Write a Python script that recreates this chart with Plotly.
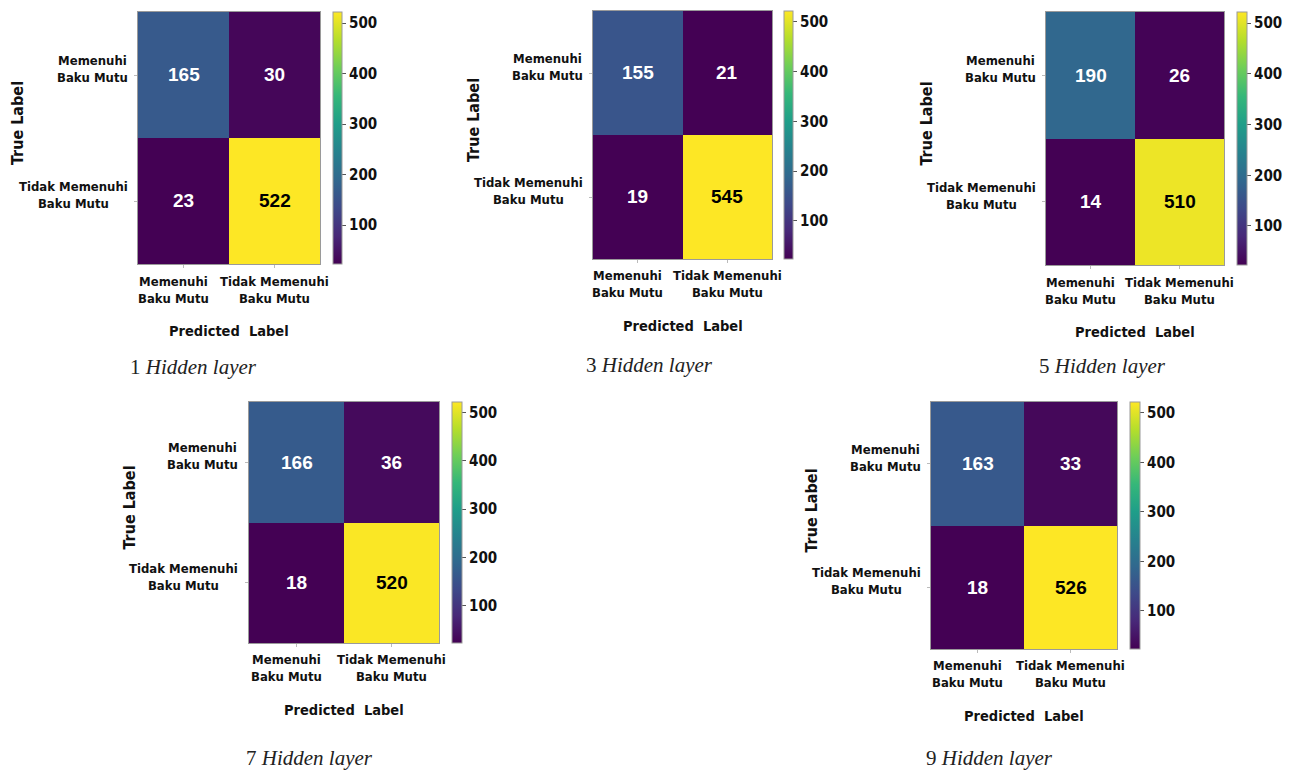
import plotly.graph_objects as go

# ---------------- data ----------------
layers = [1, 3, 5, 7, 9]
cm_1 = [[165, 30], [23, 522]]
cm_3 = [[155, 21], [19, 545]]
cm_5 = [[190, 26], [14, 510]]
cm_7 = [[166, 36], [18, 520]]
cm_9 = [[163, 33], [18, 526]]
matrices = [cm_1, cm_3, cm_5, cm_7, cm_9]
class_labels = ["Memenuhi<br>Baku Mutu", "Tidak Memenuhi<br>Baku Mutu"]
cbar_ticks = [100, 200, 300, 400, 500]
cbar_min, cbar_max = 23, 522

# ---------------- layout geometry (pixels) ----------------
W, H = 1290, 771
# heatmap box: x0, x1, y0, y1 ; colorbar x0, x1 ; caption centre
panels = [
    dict(hx=(138, 320), hy=(12, 264), cb=(333, 342), cap=(193, 367)),
    dict(hx=(593, 772), hy=(11, 259), cb=(784, 793), cap=(649, 365)),
    dict(hx=(1046, 1224), hy=(12, 265), cb=(1237, 1247), cap=(1102, 366)),
    dict(hx=(249, 439), hy=(402, 643), cb=(452, 462), cap=(309, 758)),
    dict(hx=(931, 1117), hy=(402, 649), cb=(1130, 1140), cap=(989, 758)),
]

COND = "DejaVu Sans Condensed"
GRID = "#9a9a9a"


def px_x(v):
    return v / W


def px_y(v):
    return 1 - v / H


fig = go.Figure()
annotations = []
layout_axes = {}

for i, (n, cm, p) in enumerate(zip(layers, matrices, panels)):
    k = "" if i == 0 else str(i + 1)
    xa, ya = "x" + k, "y" + k
    hx0, hx1 = p["hx"]
    hy0, hy1 = p["hy"]
    cb0, cb1 = p["cb"]

    fig.add_trace(go.Heatmap(
        z=cm, x=[0, 1], y=[0, 1],
        colorscale="Viridis", zmin=cbar_min, zmax=cbar_max,
        xaxis=xa, yaxis=ya, hoverinfo="z",
        colorbar=dict(
            x=px_x(cb0), xanchor="left", xref="paper",
            y=px_y((hy0 + hy1) / 2), yanchor="middle", yref="paper",
            len=hy1 - hy0, lenmode="pixels",
            thickness=cb1 - cb0, thicknessmode="pixels",
            xpad=0, ypad=0,
            outlinewidth=1, outlinecolor=GRID,
            tickvals=cbar_ticks, ticks="outside", ticklen=4, tickcolor="#555",
            tickfont=dict(family=COND, size=15, color="#111", weight="bold"),
        ),
    ))

    layout_axes["xaxis" + k] = dict(
        domain=[px_x(hx0), px_x(hx1)], anchor=ya, range=[-0.5, 1.5],
        tickvals=[0, 1], showticklabels=False, ticks="outside", ticklen=3,
        tickcolor="#bbb", showgrid=False, zeroline=False,
        showline=True, mirror=True, linecolor=GRID, linewidth=1,
    )
    layout_axes["yaxis" + k] = dict(
        domain=[px_y(hy1), px_y(hy0)], anchor=xa, range=[1.5, -0.5],
        tickvals=[0, 1], showticklabels=False, ticks="outside", ticklen=3,
        tickcolor="#bbb", showgrid=False, zeroline=False,
        showline=True, mirror=True, linecolor=GRID, linewidth=1,
    )

    # cell values
    mid = (cbar_min + cbar_max) / 2
    for r in range(2):
        for c in range(2):
            v = cm[r][c]
            annotations.append(dict(
                x=c, y=r, xref=xa, yref=ya, text=str(v), showarrow=False,
                font=dict(family="Liberation Sans", size=19,
                          color="black" if v > mid else "white", weight="bold"),
            ))

    # y tick labels
    for r, lab in enumerate(class_labels):
        annotations.append(dict(
            x=-0.045, xref=xa + " domain", xanchor="right",
            y=r, yref=ya, yanchor="middle", yshift=6,
            text=lab, align="center", showarrow=False,
            font=dict(family=COND, size=13, color="#111", weight="bold"),
        ))
    # x tick labels
    for c, (lab, xs) in enumerate(zip(class_labels, [-10, 0])):
        annotations.append(dict(
            x=c, xref=xa, xanchor="center", xshift=xs,
            y=-0.03, yref=ya + " domain", yanchor="top",
            text=lab, align="center", showarrow=False,
            font=dict(family=COND, size=13, color="#111", weight="bold"),
        ))
    # axis titles
    annotations.append(dict(
        x=0.5, xref=xa + " domain", y=px_y(hy1 + 67), yref="paper",
        text="Predicted  Label", showarrow=False, xanchor="center", yanchor="middle",
        font=dict(family=COND, size=14.5, color="#111", weight="bold"),
    ))
    annotations.append(dict(
        x=px_x(hx0 - 120), xref="paper", y=px_y((hy0 + hy1) / 2 - 15), yref="paper",
        text="True Label", textangle=-90, showarrow=False,
        xanchor="center", yanchor="middle",
        font=dict(family=COND, size=16, color="#111", weight="bold"),
    ))
    # caption
    cx, cy = p["cap"]
    annotations.append(dict(
        x=px_x(cx), y=px_y(cy), xref="paper", yref="paper",
        text=f"{n} <i>Hidden layer</i>", showarrow=False,
        xanchor="center", yanchor="middle",
        font=dict(family="Liberation Serif", size=21, color="#222"),
    ))

fig.update_layout(
    width=W, height=H, margin=dict(l=0, r=0, t=0, b=0),
    paper_bgcolor="white", plot_bgcolor="white",
    annotations=annotations, showlegend=False,
    **layout_axes,
)

fig.write_html("out.html")
